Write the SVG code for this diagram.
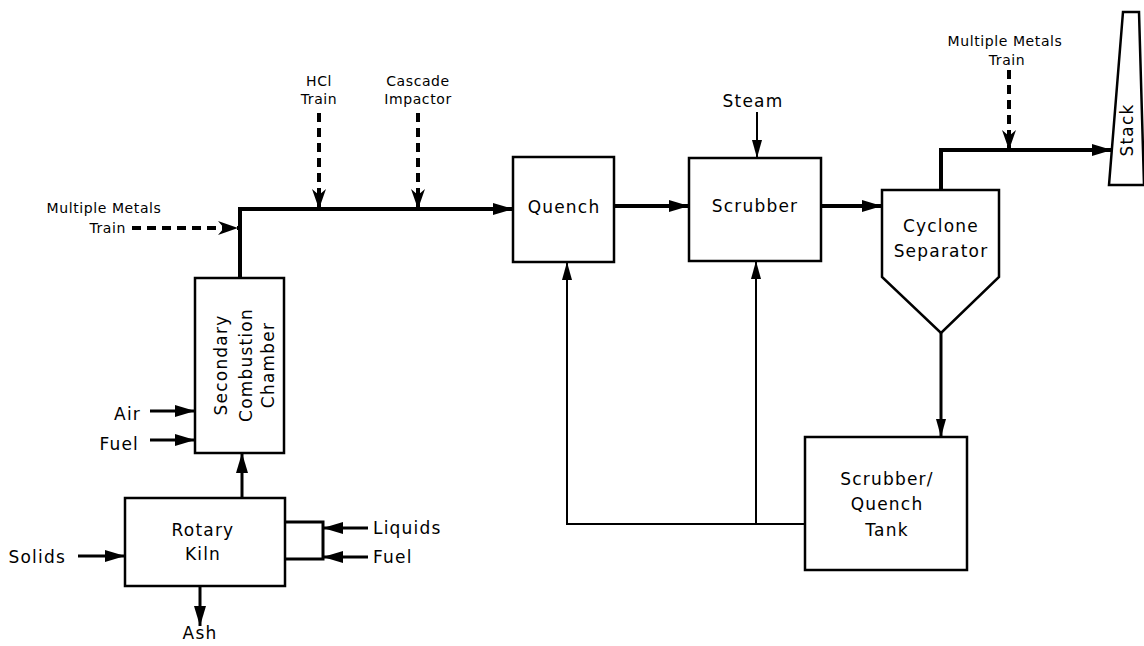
<svg xmlns="http://www.w3.org/2000/svg" width="1144" height="646" viewBox="0 0 1144 646">
<style>
text{font-family:"DejaVu Sans","Liberation Sans",sans-serif;fill:#000}
.lb{font-size:17px;letter-spacing:1.2px}
.sm{font-size:14px;letter-spacing:0.6px}
.box{fill:#fff;stroke:#000;stroke-width:2.5}
.thick{fill:none;stroke:#000;stroke-width:4}
.med{fill:none;stroke:#000;stroke-width:3}
.thin{fill:none;stroke:#000;stroke-width:2}
.dash{fill:none;stroke:#000;stroke-width:4;stroke-dasharray:9,6}
</style>
<defs>
<marker id="ah" viewBox="0 0 20 12" markerWidth="20" markerHeight="12" refX="20" refY="6" orient="auto" markerUnits="userSpaceOnUse"><path d="M0,0 L20,6 L0,12 z" fill="#000"/></marker>
<marker id="ahs" viewBox="0 0 18 10" markerWidth="18" markerHeight="10" refX="18" refY="5" orient="auto" markerUnits="userSpaceOnUse"><path d="M0,0 L18,5 L0,10 z" fill="#000"/></marker>
<marker id="ahd" viewBox="0 0 20 14" markerWidth="20" markerHeight="14" refX="20" refY="7" orient="auto" markerUnits="userSpaceOnUse"><path d="M0,0 L20,7 L0,14 L6,7 z" fill="#000"/></marker>
</defs>
<g id="connectors">
<path class="thick" d="M240,278 V209 H513" marker-end="url(#ah)"/>
<path class="thick" d="M614,206 H689" marker-end="url(#ah)"/>
<path class="thick" d="M821,206 H882" marker-end="url(#ah)"/>
<path class="thick" d="M941,190 V150 H1112" marker-end="url(#ah)"/>
<path class="thin" d="M757,112 V158" marker-end="url(#ahs)"/>
<path class="med" d="M941,333 V437" marker-end="url(#ahs)"/>
<path class="thin" d="M805,524 H567 V262" marker-end="url(#ahs)"/>
<path class="thin" d="M756,524 V261" marker-end="url(#ahs)"/>
<path class="med" d="M242,498 V453" marker-end="url(#ah)"/>
<path class="med" d="M150,411 H195" marker-end="url(#ah)"/>
<path class="med" d="M150,440 H195" marker-end="url(#ah)"/>
<path class="med" d="M78,556 H125" marker-end="url(#ah)"/>
<path class="med" d="M200,586 V626" marker-end="url(#ah)"/>
<path class="med" d="M285,522 H323 V559 H285"/>
<path class="med" d="M368,528 H323" marker-end="url(#ah)"/>
<path class="med" d="M368,557 H323" marker-end="url(#ah)"/>
<path class="dash" d="M319,113 V209" marker-end="url(#ahd)"/>
<path class="dash" d="M418,113 V209" marker-end="url(#ahd)"/>
<path class="dash" d="M132,228 H238" marker-end="url(#ahd)"/>
<path class="dash" d="M1009,70 V150" marker-end="url(#ahd)"/>
</g>
<g id="scc">
<rect class="box" x="195" y="278" width="89" height="175"/>
<text class="lb" transform="translate(227,365) rotate(-90)" text-anchor="middle">Secondary</text>
<text class="lb" transform="translate(252,365) rotate(-90)" text-anchor="middle">Combustion</text>
<text class="lb" transform="translate(274,365) rotate(-90)" text-anchor="middle">Chamber</text>
</g>
<g id="kiln">
<rect class="box" x="125" y="498" width="160" height="88"/>
<text class="lb" x="203" y="536" text-anchor="middle">Rotary</text>
<text class="lb" x="203" y="560" text-anchor="middle">Kiln</text>
</g>
<g id="quench">
<rect class="box" x="513" y="157" width="101" height="105"/>
<text class="lb" x="564" y="213" text-anchor="middle">Quench</text>
</g>
<g id="scrubber">
<rect class="box" x="689" y="158" width="132" height="103"/>
<text class="lb" x="755" y="212" text-anchor="middle">Scrubber</text>
</g>
<g id="cyclone">
<path class="box" d="M882,190 H999 V277 L941,333 L882,277 Z"/>
<text class="lb" x="941" y="232" text-anchor="middle">Cyclone</text>
<text class="lb" x="941" y="257" text-anchor="middle">Separator</text>
</g>
<g id="tank">
<rect class="box" x="805" y="437" width="162" height="133"/>
<text class="lb" x="887" y="485" text-anchor="middle">Scrubber/</text>
<text class="lb" x="887" y="510" text-anchor="middle">Quench</text>
<text class="lb" x="887" y="536" text-anchor="middle">Tank</text>
</g>
<g id="stack">
<path class="box" d="M1123,12 H1139 L1144,185 H1109 Z"/>
<text class="lb" transform="translate(1133,130) rotate(-90)" text-anchor="middle">Stack</text>
</g>
<g id="labels">
<text class="sm" x="319" y="86" text-anchor="middle">HCl</text>
<text class="sm" x="319" y="104" text-anchor="middle">Train</text>
<text class="sm" x="418" y="86" text-anchor="middle">Cascade</text>
<text class="sm" x="418" y="104" text-anchor="middle">Impactor</text>
<text class="lb" x="753" y="107" text-anchor="middle">Steam</text>
<text class="sm" x="1005" y="46" text-anchor="middle">Multiple Metals</text>
<text class="sm" x="1007" y="65" text-anchor="middle">Train</text>
<text class="sm" x="104" y="213" text-anchor="middle">Multiple Metals</text>
<text class="sm" x="126" y="233" text-anchor="end">Train</text>
<text class="lb" x="141" y="420" text-anchor="end">Air</text>
<text class="lb" x="139" y="450" text-anchor="end">Fuel</text>
<text class="lb" x="66" y="563" text-anchor="end">Solids</text>
<text class="lb" x="373" y="534">Liquids</text>
<text class="lb" x="373" y="563">Fuel</text>
<text class="lb" x="200" y="639" text-anchor="middle">Ash</text>
</g>
</svg>
